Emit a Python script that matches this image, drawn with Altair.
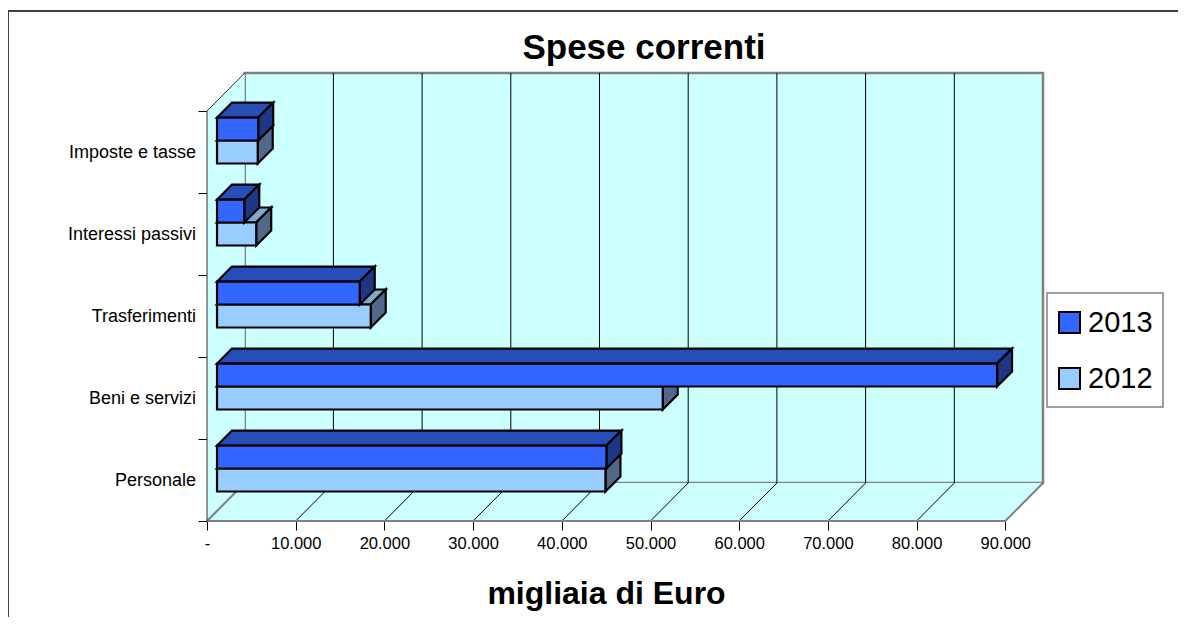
import altair as alt
import pandas as pd

categories = ["Personale", "Beni e servizi", "Trasferimenti", "Interessi passivi", "Imposte e tasse"]
values_2012 = [43790, 50250, 17330, 4420, 4590]
values_2013 = [43900, 87940, 16090, 3070, 4645]
x_ticks = [0, 10000, 20000, 30000, 40000, 50000, 60000, 70000, 80000, 90000]
y_ticks = [0, 1, 2, 3, 4, 5]
series = ["2013", "2012"]
series_colors = ["#3366FF", "#99CCFF"]

# geometry of the pseudo-3D box, in axis units
DX, DY = 4250, 0.4634      # depth of the box
XMAX, YMAX = 90000, 5
BX, BY = 1690, 0.183       # depth of a bar
X0 = 1130                  # where bars start
x_scale = alt.Scale(domain=[0, XMAX + DX], nice=False, zero=False)
y_scale = alt.Scale(domain=[0, YMAX + DY], nice=False, zero=False)
x_axis = alt.Axis(
    values=x_ticks, domain=False, grid=False, tickColor="black", tickSize=9, tickWidth=1,
    labelFontSize=16.5, labelColor="black", labelPadding=5, labelFlush=False,
    labelOverlap=False,
    labelExpr="datum.value === 0 ? '-' : replace(format(datum.value, ','), ',', '.')",
    titleFontSize=32, titleFontWeight="bold", titleColor="black",
    titleX=399, titleY=72, titleBaseline="middle", titleAnchor="middle", titleAlign="center")
y_axis = alt.Axis(values=y_ticks, domain=False, grid=False, labels=False, tickColor="black",
                  tickSize=9, tickWidth=1)
X = alt.X("x:Q", scale=x_scale, axis=x_axis, title="migliaia di Euro")
Y = alt.Y("y:Q", scale=y_scale, axis=y_axis, title=None)
GRAY = "#808080"
WALL = "#CCFFFF"


def bars(vals, lo, hi):
    top, side, front = [], [], []
    for i, v in enumerate(vals):
        x1 = X0 + v
        yb, yt = i + lo, i + hi
        front.append({"x": X0, "x2": x1, "y": yb, "y2": yt})
        top += [{"k": i, "y": yt, "x": X0, "x2": x1},
                {"k": i, "y": yt + BY, "x": X0 + BX, "x2": x1 + BX}]
        side += [{"k": i, "x": x1, "y": yb, "y2": yt},
                 {"k": i, "x": x1 + BX, "y": yb + BY, "y2": yt + BY}]
    return pd.DataFrame(top), pd.DataFrame(side), pd.DataFrame(front)


def bar_layers(name, vals, lo, hi, top_c, side_c):
    top, side, front = bars(vals, lo, hi)
    front["s"] = name
    st = dict(stroke="black", strokeWidth=2.2, strokeJoin="miter")
    return [
        alt.Chart(top).mark_area(orient="horizontal", fill=top_c, **st).encode(
            y=Y, x=X, x2="x2:Q", detail="k:N"),
        alt.Chart(side).mark_area(orient="vertical", fill=side_c, **st).encode(
            x=X, y=Y, y2="y2:Q", detail="k:N"),
        alt.Chart(front).mark_rect(**st).encode(
            x=X, x2="x2:Q", y=Y, y2="y2:Q",
            color=alt.Color("s:N", scale=alt.Scale(domain=series, range=series_colors),
                            legend=alt.Legend(
                                title=None, orient="none", legendX=840, legendY=227,
                                padding=8,
                                symbolType="square", symbolSize=441, symbolStrokeColor="black",
                                symbolStrokeWidth=2, symbolOpacity=1,
                                labelFontSize=29, labelFont="Liberation Sans", labelColor="black",
                                labelOffset=4, rowPadding=26)),
        ),
    ]


back = alt.Chart(pd.DataFrame([{"x": DX, "x2": XMAX + DX, "y": DY, "y2": YMAX + DY}])).mark_rect(
    fill=WALL, stroke=GRAY, strokeWidth=2.5).encode(x=X, x2="x2:Q", y=Y, y2="y2:Q")

floor = alt.Chart(pd.DataFrame([
    {"y": 0, "x": 0, "x2": XMAX},
    {"y": DY, "x": DX, "x2": XMAX + DX},
])).mark_area(orient="horizontal", fill=WALL).encode(y=Y, x=X, x2="x2:Q")

left = alt.Chart(pd.DataFrame([
    {"x": 0, "y": 0, "y2": YMAX},
    {"x": DX, "y": DY, "y2": YMAX + DY},
])).mark_area(orient="vertical", fill=WALL).encode(x=X, y=Y, y2="y2:Q")

inner = [v for v in x_ticks if 0 < v < XMAX]
grid_up = alt.Chart(pd.DataFrame({"x": [v + DX for v in inner], "y": DY, "y2": YMAX + DY})).mark_rule(
    color="black", strokeWidth=1).encode(x=X, y=Y, y2="y2:Q")
grid_floor = alt.Chart(pd.DataFrame({"x": inner, "x2": [v + DX for v in inner], "y": 0, "y2": DY})).mark_rule(
    color="black", strokeWidth=1).encode(x=X, x2="x2:Q", y=Y, y2="y2:Q")

# box edges
edge_gray = alt.Chart(pd.DataFrame([
    {"x": 0, "x2": XMAX, "y": 0, "y2": 0},
    {"x": 0, "x2": DX, "y": 0, "y2": DY},
    {"x": XMAX, "x2": XMAX + DX, "y": 0, "y2": DY},
])).mark_rule(color=GRAY, strokeWidth=2).encode(x=X, x2="x2:Q", y=Y, y2="y2:Q")
edge_dark = alt.Chart(pd.DataFrame([
    {"x": 0, "x2": 0, "y": 0, "y2": YMAX},
    {"x": 0, "x2": DX, "y": YMAX, "y2": YMAX + DY},
])).mark_rule(color="#303030", strokeWidth=1).encode(x=X, x2="x2:Q", y=Y, y2="y2:Q")

labels = alt.Chart(pd.DataFrame({"c": categories, "x": 0, "y": [i + 0.5 for i in range(5)]})).mark_text(
    align="right", baseline="middle", dx=-11, dy=1.5, fontSize=18, color="black").encode(x=X, y=Y, text="c:N")

frame = alt.Chart(pd.DataFrame({"a": [0]})).mark_rect(
    fill=None, stroke="#404040", strokeWidth=2
).encode(x=alt.value(-199), x2=alt.value(1100), y=alt.value(-62), y2=alt.value(700))

legend_box = alt.Chart(pd.DataFrame({"a": [0]})).mark_rect(
    fill="white", stroke=GRAY, strokeWidth=1.5
).encode(x=alt.value(840), x2=alt.value(956), y=alt.value(220), y2=alt.value(334))

chart = alt.layer(
    back, left, floor, grid_up, grid_floor, edge_gray, edge_dark,
    *bar_layers("2012", values_2012, 0.36, 0.64, "#7FA9CC", "#51688A"),
    *bar_layers("2013", values_2013, 0.64, 0.92, "#264DB8", "#1C3885"),
    labels, frame, legend_box,
).properties(
    width=836, height=448,
    title=alt.TitleParams("Spese correnti", fontSize=35, fontWeight="bold", color="black",
                          anchor="middle", frame="group", dx=19, offset=-84, baseline="alphabetic"),
    autosize=alt.AutoSizeParams(type="none"),
    padding={"left": 199, "top": 65, "right": 135, "bottom": 96},
).configure(font="Liberation Sans", background="white").configure_view(stroke=None)

chart.save("out.html", embed_options={"renderer": "svg", "actions": False})
